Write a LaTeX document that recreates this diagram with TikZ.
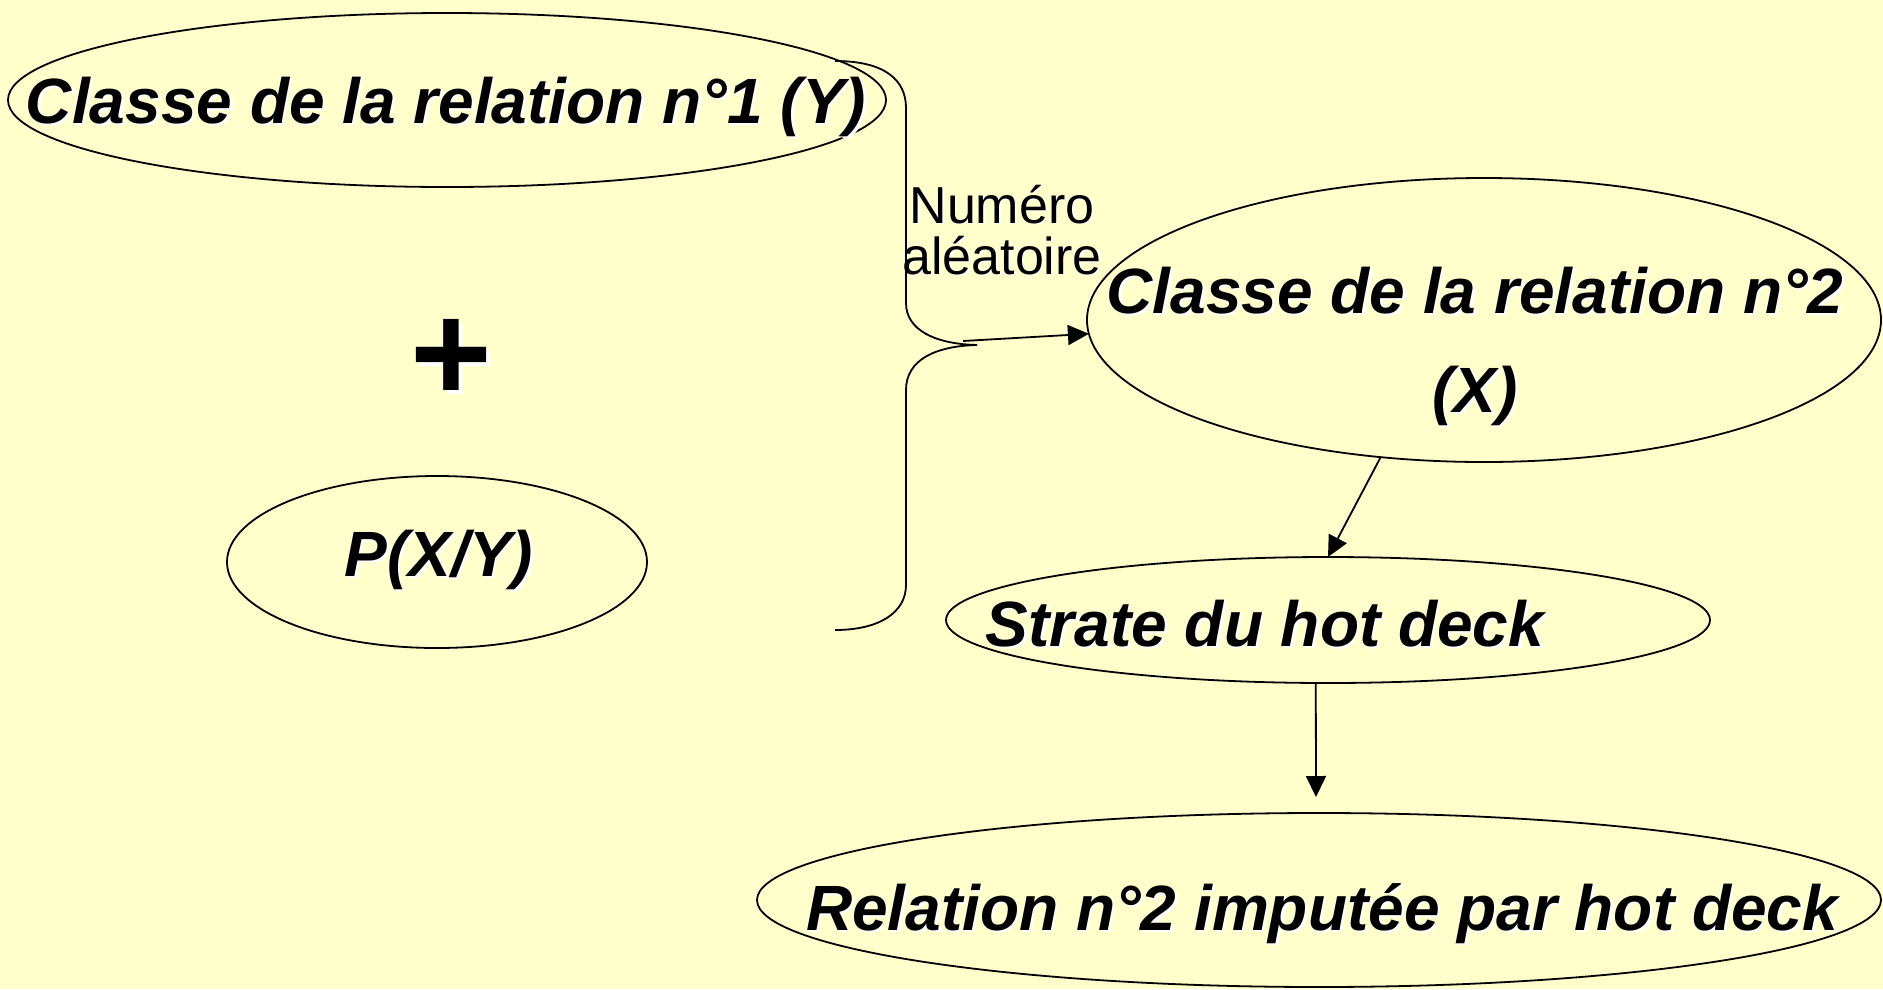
\documentclass[tikz,border=0pt]{standalone}
\usepackage{fontspec}
\setmainfont{Liberation Sans}
\usetikzlibrary{arrows.meta,shapes.geometric}
\definecolor{bg}{HTML}{FFFFCC}
\newcommand\shd[2][2.5pt]{\leavevmode\rlap{\kern#1\raisebox{-#1}{\color{white}#2}}#2}
\begin{document}
\begin{tikzpicture}[x=1pt,y=-1pt,
  ell/.style={draw=black, line width=1.8pt, ellipse, inner sep=0pt, outer sep=0pt},
  big/.style={font=\fontsize{64}{99}\selectfont\bfseries\itshape, inner sep=0pt, anchor=base, align=center},
  small/.style={font=\fontsize{52}{51}\selectfont, inner sep=0pt, anchor=base, align=center},
  arr/.style={line width=1.8pt, -{Triangle[length=21pt,width=20pt]}},
  bracepath/.style={line width=1.8pt}]
\useasboundingbox (0,0) rectangle (1883,989);
\fill[bg] (0,0) rectangle (1883,989);

% ellipses
\node[ell, minimum width=878pt, minimum height=174pt] (e1) at (447,100) {};
\node[ell, minimum width=794pt, minimum height=284pt] (e2) at (1484,320) {};
\node[ell, minimum width=420pt, minimum height=172pt] (pxy) at (437,562) {};
\node[ell, minimum width=764pt, minimum height=126pt] (e3) at (1328,620) {};
\node[ell, minimum width=1124pt, minimum height=174pt] (e4) at (1319,900) {};

% texts (base anchor = baseline of the last line)
\node[big] (t1) at (446,123) {\shd{Classe de la relation n°1 (Y)}};
\node[big] (t2) at (1475,412) {\shd{Classe de la relation n°2}\\\shd{(X)}};
\node[big] (tp) at (439,576) {\shd{P(X/Y)}};
\node[big] (t3) at (1265,646) {\shd{Strate du hot deck}};
\node[big] (t4) at (1322,930) {\shd{Relation n°2 imputée par hot deck}};
\node[inner sep=0pt, anchor=base, font=\fontsize{140}{140}\selectfont\bfseries] (plus) at (451,401) {\shd[4pt]{+}};
\node[small] (num) at (1002,274) {\shd[1.5pt]{Numéro}\\\shd[1.5pt]{aléatoire}};

% brace
\coordinate (tip) at (963,341);
\draw[bracepath] (835,61) .. controls (885,61) and (906,80) .. (906,108)
  -- (906,303) .. controls (906,330) and (935,344) .. (977,345)
  .. controls (935,346) and (906,360) .. (906,390)
  -- (906,585) .. controls (906,612) and (880,630) .. (835,630);

% arrows
\coordinate (a3end) at (1316,797);
\draw[arr] (tip) -- (e2.182);
\draw[arr] (e2.233) -- (e3.north);
\draw[arr] (e3.259) -- (a3end);
\end{tikzpicture}
\end{document}
